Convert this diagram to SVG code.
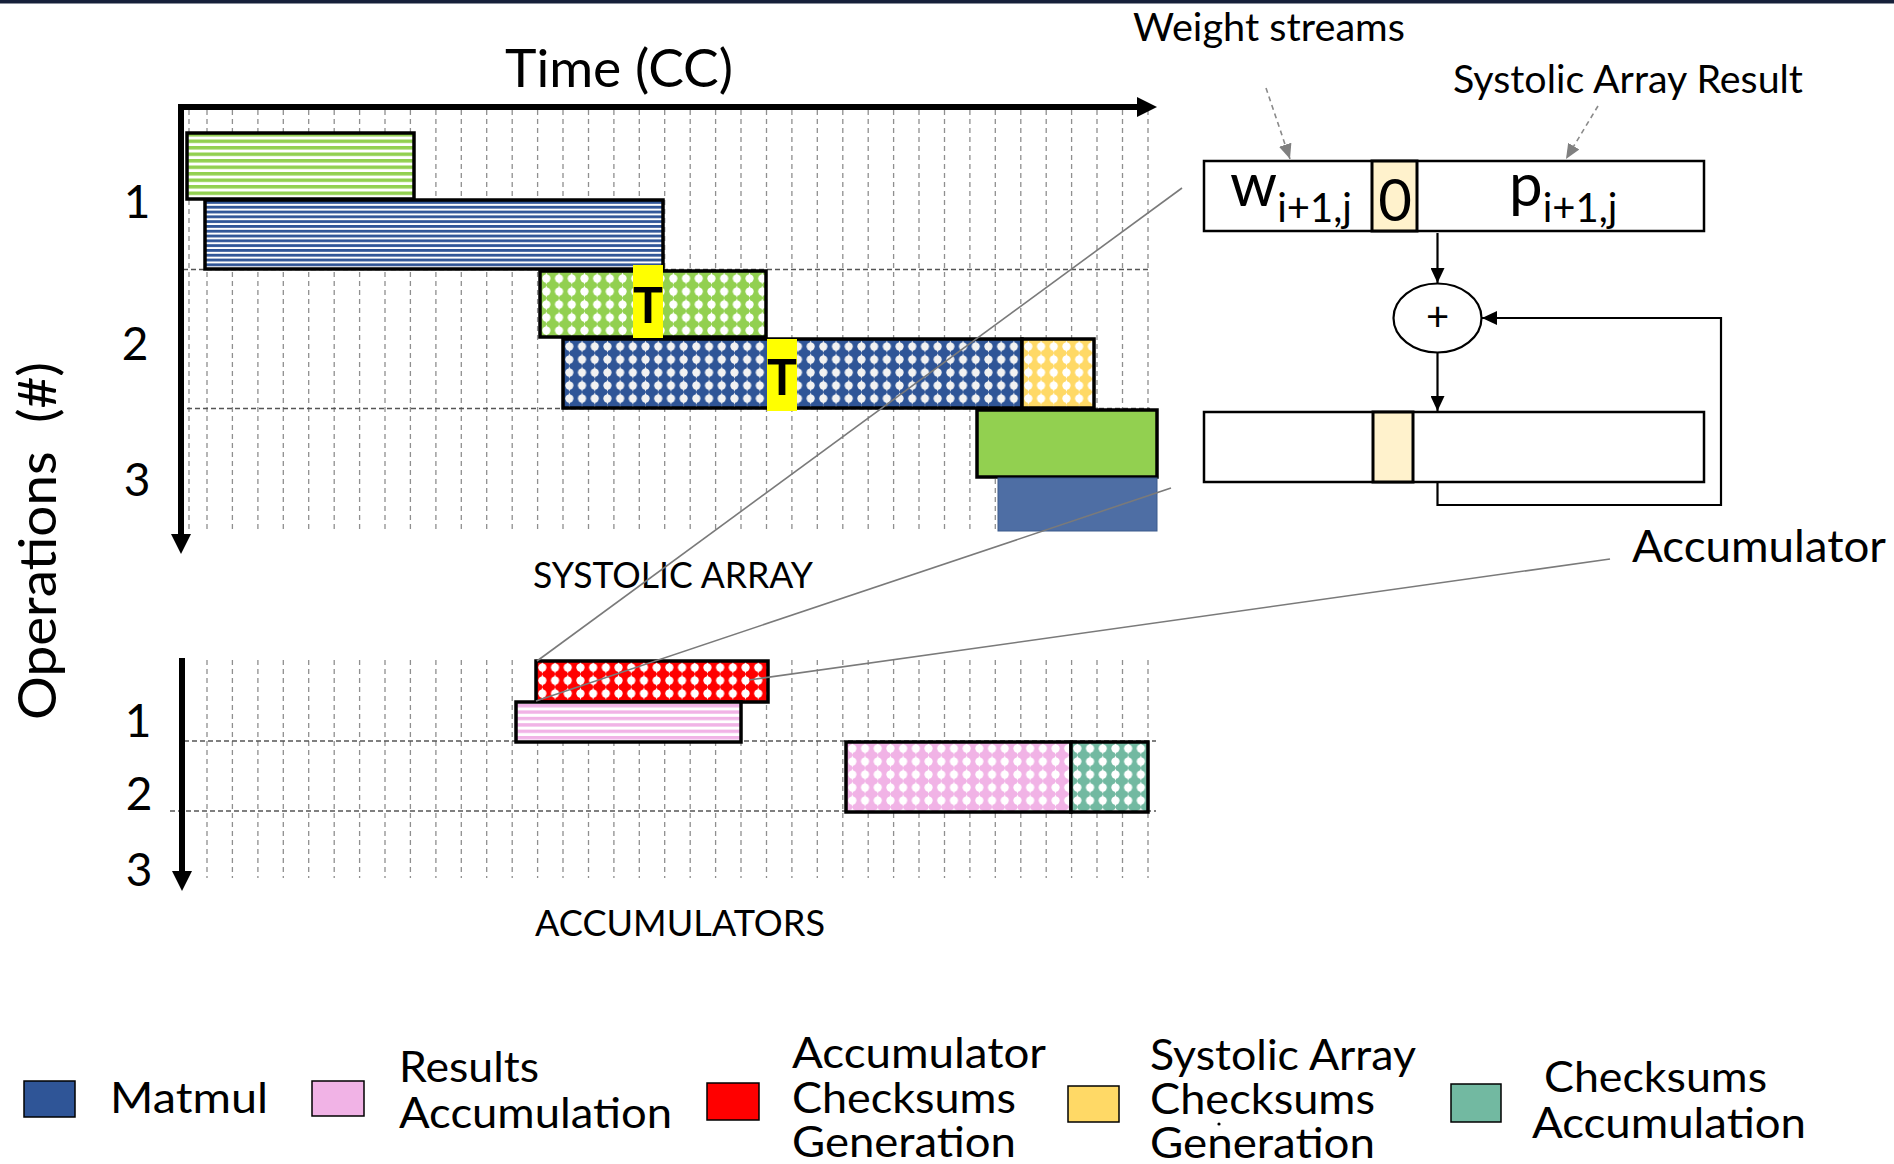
<svg xmlns="http://www.w3.org/2000/svg" width="1894" height="1164" viewBox="0 0 1894 1164">
  <style>
    text { font-family: Lato, "Open Sans", "Liberation Sans", sans-serif; fill: #000; }
    .lbl { font-size: 38px; }
    .num { font-size: 46px; text-anchor: middle; }
    .leg { font-size: 42px; }
    .cap { font-size: 37px; }
    .tmark { font-size: 50px; font-weight: 700; text-anchor: middle; }
    .bar { stroke: #000; stroke-width: 3.5; }
    .reg { fill: #fff; stroke: #000; stroke-width: 2.5; }
    .cell { fill: #FFF2CC; stroke: #000; stroke-width: 3; }
    .vgrid { stroke: #8f8f8f; stroke-width: 1.3; stroke-dasharray: 5 4; fill: none; }
    .hgrid { stroke: #555; stroke-width: 1.5; stroke-dasharray: 5 3; fill: none; }
    .axis { stroke: #000; stroke-width: 6; fill: none; }
    .flow { stroke: #000; stroke-width: 2.2; fill: none; }
    .callout { stroke: #7a7a7a; stroke-width: 1.6; fill: none; }
    .hint { stroke: #8a8a8a; stroke-width: 1.6; stroke-dasharray: 5 4; fill: none; }
    .sw { stroke: #000; stroke-width: 1.5; }
  </style>
  <defs>
    <!-- striped fills -->
    <pattern id="stripeGreen" patternUnits="userSpaceOnUse" width="10" height="6.5" y="133">
      <rect width="10" height="6.5" fill="#fff"/>
      <rect width="10" height="3.5" fill="#92D050"/>
    </pattern>
    <pattern id="stripeBlue" patternUnits="userSpaceOnUse" width="10" height="4.8" y="201">
      <rect width="10" height="4.8" fill="#fff"/>
      <rect width="10" height="2.8" fill="#2F5597"/>
    </pattern>
    <pattern id="stripePink" patternUnits="userSpaceOnUse" width="10" height="6.4" y="704">
      <rect width="10" height="6.4" fill="#fff"/>
      <rect width="10" height="3.4" fill="#F1B3E6"/>
    </pattern>
    <!-- dotted fills -->
    <g id="dot">
      <circle cx="6.35" cy="6.5" r="4.1"/>
      <path d="M6.35 0.3 L8.6 6.5 L6.35 12.7 L4.1 6.5 Z"/>
    </g>
    <pattern id="dotGreen" patternUnits="userSpaceOnUse" width="12.7" height="13" x="540" y="272">
      <rect width="12.7" height="13" fill="#92D050"/>
      <use href="#dot" fill="#fff"/>
    </pattern>
    <pattern id="dotBlue" patternUnits="userSpaceOnUse" width="12.7" height="13" x="563" y="340">
      <rect width="12.7" height="13" fill="#2F5597"/>
      <use href="#dot" fill="#f2f2f2"/>
    </pattern>
    <pattern id="dotYellow" patternUnits="userSpaceOnUse" width="12.7" height="13" x="1022" y="340">
      <rect width="12.7" height="13" fill="#FFD966"/>
      <use href="#dot" fill="#fff"/>
    </pattern>
    <pattern id="dotRed" patternUnits="userSpaceOnUse" width="12.7" height="13" x="536" y="661">
      <rect width="12.7" height="13" fill="#FF0000"/>
      <use href="#dot" fill="#fff"/>
    </pattern>
    <pattern id="dotPink" patternUnits="userSpaceOnUse" width="12.7" height="13" x="846" y="742">
      <rect width="12.7" height="13" fill="#F1B3E6"/>
      <use href="#dot" fill="#fff"/>
    </pattern>
    <pattern id="dotTeal" patternUnits="userSpaceOnUse" width="12.7" height="13" x="1071" y="742">
      <rect width="12.7" height="13" fill="#72B9A1"/>
      <use href="#dot" fill="#fff"/>
    </pattern>
    <!-- arrowheads -->
    <marker id="axisHead" viewBox="0 0 20 20" markerWidth="20" markerHeight="20" refX="1" refY="10" orient="auto-start-reverse" markerUnits="userSpaceOnUse">
      <path d="M0 0 L20 10 L0 20 Z" fill="#000"/>
    </marker>
    <marker id="blackHead" viewBox="0 0 15 14" markerWidth="15" markerHeight="14" refX="15" refY="7" orient="auto" markerUnits="userSpaceOnUse">
      <path d="M0 0 L15 7 L0 14 Z" fill="#000"/>
    </marker>
    <marker id="grayHead" viewBox="0 0 15 13" markerWidth="15" markerHeight="13" refX="15" refY="6.5" orient="auto" markerUnits="userSpaceOnUse">
      <path d="M0 0 L15 6.5 L0 13 Z" fill="#808080"/>
    </marker>
  </defs>

  <rect width="1894" height="1164" fill="#fff"/>
  <rect width="1894" height="3.5" fill="#16203a"/>

  <!-- upper timeline grid -->
  <g id="grid-systolic">
    <path class="vgrid" d="M189 110 V530 M207 110 V530 M232.4 110 V530 M257.9 110 V530 M283.3 110 V530 M308.7 110 V530 M334.2 110 V530 M359.6 110 V530 M385 110 V530 M410.4 110 V530 M435.9 110 V530 M461.3 110 V530 M486.7 110 V530 M512.2 110 V530 M537.6 110 V530 M563 110 V530 M588.5 110 V530 M613.9 110 V530 M639.3 110 V530 M664.7 110 V530 M690.2 110 V530 M715.6 110 V530 M741 110 V530 M766.5 110 V530 M791.9 110 V530 M817.3 110 V530 M842.8 110 V530 M868.2 110 V530 M893.6 110 V530 M919 110 V530 M944.5 110 V530 M969.9 110 V530 M995.3 110 V530 M1020.8 110 V530 M1046.2 110 V530 M1071.6 110 V530 M1097 110 V530 M1122.5 110 V530 M1148 110 V530"/>
    <path class="hgrid" d="M183 269.5 H1150 M187 408.5 H1150"/>
  </g>

  <!-- lower timeline grid -->
  <g id="grid-accumulators">
    <path class="vgrid" d="M207 660 V878 M232.4 660 V878 M257.9 660 V878 M283.3 660 V878 M308.7 660 V878 M334.2 660 V878 M359.6 660 V878 M385 660 V878 M410.4 660 V878 M435.9 660 V878 M461.3 660 V878 M486.7 660 V878 M512.2 660 V878 M537.6 660 V878 M563 660 V878 M588.5 660 V878 M613.9 660 V878 M639.3 660 V878 M664.7 660 V878 M690.2 660 V878 M715.6 660 V878 M741 660 V878 M766.5 660 V878 M791.9 660 V878 M817.3 660 V878 M842.8 660 V878 M868.2 660 V878 M893.6 660 V878 M919 660 V878 M944.5 660 V878 M969.9 660 V878 M995.3 660 V878 M1020.8 660 V878 M1046.2 660 V878 M1071.6 660 V878 M1097 660 V878 M1122.5 660 V878 M1148 660 V878"/>
    <path class="hgrid" d="M184 741 H1156 M170 811 H1156"/>
  </g>

  <!-- axes -->
  <g id="axes">
    <path class="axis" d="M1138 107 H181 V535" marker-start="url(#axisHead)" marker-end="url(#axisHead)"/>
    <path class="axis" d="M182 658 V872" marker-end="url(#axisHead)"/>
    <text x="505" y="87" font-size="52" textLength="228" lengthAdjust="spacingAndGlyphs">Time (CC)</text>
    <text transform="translate(56 541) rotate(-90)" font-size="53" text-anchor="middle" style="white-space:pre" textLength="358" lengthAdjust="spacingAndGlyphs">Operations  (#)</text>
    <text class="num" x="137" y="218">1</text>
    <text class="num" x="135" y="360">2</text>
    <text class="num" x="137" y="496">3</text>
    <text class="num" x="138" y="737">1</text>
    <text class="num" x="139" y="810">2</text>
    <text class="num" x="139" y="886">3</text>
    <text class="cap" x="533" y="588" textLength="280" lengthAdjust="spacingAndGlyphs">SYSTOLIC ARRAY</text>
    <text class="cap" x="535" y="936" textLength="290" lengthAdjust="spacingAndGlyphs">ACCUMULATORS</text>
  </g>

  <!-- systolic array operations -->
  <g id="op1-weights"><rect class="bar" x="187" y="133" width="227" height="66" fill="url(#stripeGreen)"/></g>
  <g id="op1-matmul"><rect class="bar" x="205" y="200" width="458" height="69" fill="url(#stripeBlue)"/></g>
  <g id="op2-weights"><rect class="bar" x="540" y="271" width="226" height="66" fill="url(#dotGreen)"/></g>
  <g id="op2-matmul"><rect class="bar" x="563" y="339" width="459" height="69" fill="url(#dotBlue)"/></g>
  <g id="op2-checksum"><rect class="bar" x="1022" y="339" width="72" height="69" fill="url(#dotYellow)"/></g>
  <g id="transfer-1">
    <rect x="633" y="265" width="30" height="73" fill="#FFFF00"/>
    <text class="tmark" x="648" y="323">T</text>
  </g>
  <g id="transfer-2">
    <rect x="767" y="339" width="30" height="72" fill="#FFFF00"/>
    <text class="tmark" x="782" y="395">T</text>
  </g>
  <g id="op3-weights"><rect class="bar" x="977" y="410" width="180" height="67" fill="#92D050"/></g>
  <g id="op3-matmul"><rect x="998" y="478" width="159" height="53" fill="#4E6EA4" stroke="#3b5a8c" stroke-width="1"/></g>

  <!-- accumulator operations -->
  <g id="acc-checksum"><rect class="bar" x="536" y="661" width="232" height="41" fill="url(#dotRed)"/></g>
  <g id="acc-results1"><rect class="bar" x="516" y="702" width="225" height="40" fill="url(#stripePink)"/></g>
  <g id="acc-results2"><rect class="bar" x="846" y="742" width="225" height="70" fill="url(#dotPink)"/></g>
  <g id="acc-checksum-sum"><rect class="bar" x="1071" y="742" width="77" height="70" fill="url(#dotTeal)"/></g>

  <!-- accumulator detail -->
  <g id="input-register">
    <rect class="reg" x="1204" y="161" width="500" height="70"/>
    <rect class="cell" x="1372" y="161" width="45" height="70"/>
    <text x="1230" y="206" font-size="60">w<tspan font-size="40" dy="16">i+1,j</tspan></text>
    <text x="1395" y="221" font-size="58" text-anchor="middle">0</text>
    <text x="1509" y="206" font-size="60">p<tspan font-size="40" dy="16">i+1,j</tspan></text>
  </g>
  <g id="adder">
    <ellipse cx="1437.5" cy="318" rx="44" ry="34.5" fill="#fff" stroke="#000" stroke-width="2.2"/>
    <text x="1437.5" y="331" font-size="40" text-anchor="middle">+</text>
  </g>
  <g id="output-register">
    <rect class="reg" x="1204" y="412" width="500" height="70"/>
    <rect class="cell" x="1373" y="412" width="40" height="70"/>
  </g>
  <g id="labels">
    <text x="1133" y="41" class="lbl" textLength="272" lengthAdjust="spacingAndGlyphs">Weight streams</text>
    <text x="1453" y="93" class="lbl" textLength="350" lengthAdjust="spacingAndGlyphs">Systolic Array Result</text>
    <text x="1632" y="562" font-size="44" textLength="254" lengthAdjust="spacingAndGlyphs">Accumulator</text>
  </g>

  <!-- connectors -->
  <g id="connectors">
    <path class="flow" d="M1437.5 233 V283" marker-end="url(#blackHead)"/>
    <path class="flow" d="M1437.5 353 V411" marker-end="url(#blackHead)"/>
    <path class="flow" d="M1437.5 482 V505 H1721 V318 H1482" marker-end="url(#blackHead)"/>
    <path class="hint" d="M1266 88 L1290 159" marker-end="url(#grayHead)"/>
    <path class="hint" d="M1598 106 L1566 159" marker-end="url(#grayHead)"/>
    <path class="callout" d="M537 661 L1182 188"/>
    <path class="callout" d="M536 701 L1171 488"/>
    <path class="callout" d="M749 680 L1610 559"/>
  </g>

  <!-- legend -->
  <g id="legend-matmul">
    <rect class="sw" x="24" y="1081" width="51" height="36" fill="#2F5597"/>
    <text class="leg" x="110" y="1113" textLength="158" lengthAdjust="spacingAndGlyphs">Matmul</text>
  </g>
  <g id="legend-results">
    <rect class="sw" x="312" y="1081" width="52" height="35" fill="#F1B3E6"/>
    <text class="leg" x="399" y="1082" textLength="140" lengthAdjust="spacingAndGlyphs">Results</text>
    <text class="leg" x="399" y="1128" textLength="273" lengthAdjust="spacingAndGlyphs">Accumulation</text>
  </g>
  <g id="legend-acc-checksums">
    <rect class="sw" x="707" y="1083" width="52" height="37" fill="#FF0000"/>
    <text class="leg" x="792" y="1068" textLength="254" lengthAdjust="spacingAndGlyphs">Accumulator</text>
    <text class="leg" x="792" y="1113" textLength="224" lengthAdjust="spacingAndGlyphs">Checksums</text>
    <text class="leg" x="792" y="1157" textLength="224" lengthAdjust="spacingAndGlyphs">Generation</text>
  </g>
  <g id="legend-sa-checksums">
    <rect class="sw" x="1068" y="1086" width="51" height="36" fill="#FFD966"/>
    <text class="leg" x="1150" y="1070" textLength="266" lengthAdjust="spacingAndGlyphs">Systolic Array</text>
    <text class="leg" x="1150" y="1114" textLength="225" lengthAdjust="spacingAndGlyphs">Checksums</text>
    <circle cx="1219" cy="1124" r="1.6" fill="#000"/>
    <text class="leg" x="1150" y="1158" textLength="225" lengthAdjust="spacingAndGlyphs">Generation</text>
  </g>
  <g id="legend-checksum-acc">
    <rect class="sw" x="1451" y="1084" width="50" height="38" fill="#72B9A1"/>
    <text class="leg" x="1544" y="1092" textLength="223" lengthAdjust="spacingAndGlyphs">Checksums</text>
    <text class="leg" x="1532" y="1138" textLength="274" lengthAdjust="spacingAndGlyphs">Accumulation</text>
  </g>
</svg>
